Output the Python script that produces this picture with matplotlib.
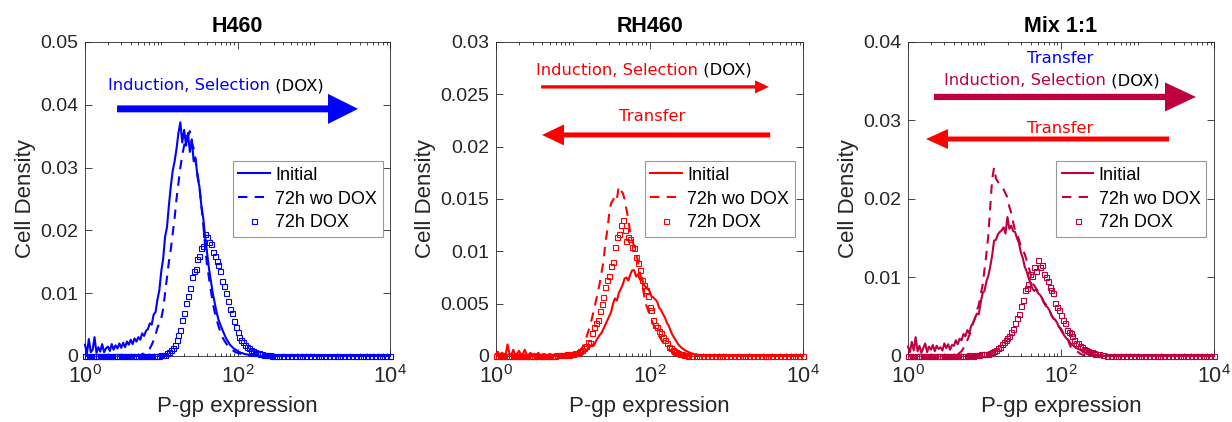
import numpy as np
import matplotlib
matplotlib.use("Agg")
import matplotlib.pyplot as plt
from matplotlib import ticker

plt.rcParams['font.family'] = ['Liberation Sans', 'DejaVu Sans']
plt.rcParams['mathtext.fontset'] = 'custom'
plt.rcParams['mathtext.rm'] = 'Liberation Sans'
plt.rcParams['mathtext.it'] = 'Liberation Sans:italic'

# log10 of P-gp expression (bin centres): fine up to 2.5, coarser in the empty tail
LOG_X = [0.000, 0.025, 0.050, 0.075, 0.100, 0.125, 0.150, 0.175,
         0.200, 0.225, 0.250, 0.275, 0.300, 0.325, 0.350, 0.375,
         0.400, 0.425, 0.450, 0.475, 0.500, 0.525, 0.550, 0.575,
         0.600, 0.625, 0.650, 0.675, 0.700, 0.725, 0.750, 0.775,
         0.800, 0.825, 0.850, 0.875, 0.900, 0.925, 0.950, 0.975,
         1.000, 1.025, 1.050, 1.075, 1.100, 1.125, 1.150, 1.175,
         1.200, 1.225, 1.250, 1.275, 1.300, 1.325, 1.350, 1.375,
         1.400, 1.425, 1.450, 1.475, 1.500, 1.525, 1.550, 1.575,
         1.600, 1.625, 1.650, 1.675, 1.700, 1.725, 1.750, 1.775,
         1.800, 1.825, 1.850, 1.875, 1.900, 1.925, 1.950, 1.975,
         2.000, 2.025, 2.050, 2.075, 2.100, 2.125, 2.150, 2.175,
         2.200, 2.225, 2.250, 2.275, 2.300, 2.325, 2.350, 2.375,
         2.400, 2.425, 2.450, 2.475, 2.500,
         2.55, 2.60, 2.65, 2.70, 2.75, 2.80, 2.85, 2.90, 2.95, 3.00,
         3.05, 3.10, 3.15, 3.20, 3.25, 3.30, 3.35, 3.40, 3.45, 3.50,
         3.55, 3.60, 3.65, 3.70, 3.75, 3.80, 3.85, 3.90, 3.95, 4.00]

# cell densities, in units of 1e-3
H460_INITIAL = [1.8, 0.4, 2.7, 0.6, 1.0, 3.0, 0.5, 1.4,
                0.7, 1.9, 0.6, 1.2, 1.5, 0.8, 1.9, 1.0,
                1.7, 1.2, 2.0, 1.3, 2.1, 1.4, 2.3, 1.8,
                2.6, 1.9, 2.8, 2.3, 3.0, 2.6, 3.6, 3.2,
                4.0, 4.3, 5.2, 5.0, 6.6, 7.0, 9.0, 10.5,
                13.5, 15.5, 19.0, 20.5, 24.0, 27.0, 29.5, 31.0,
                33.0, 35.5, 37.2, 34.0, 36.0, 33.5, 35.5, 32.5,
                34.5, 31.0, 31.5, 28.5, 27.0, 24.0, 22.0, 19.0,
                16.5, 14.0, 12.0, 10.0, 8.5, 7.0, 5.8, 5.0,
                4.2, 3.5, 2.8, 2.3, 1.8, 1.5, 1.2, 1.0,
                0.8, 0.6, 0.5, 0.4, 0.3, 0.25, 0.2, 0.15,
                0.1, 0.08, 0.05, 0.03, 0, 0, 0, 0,
                0, 0, 0, 0, 0,
                0, 0, 0, 0, 0, 0, 0, 0, 0, 0,
                0, 0, 0, 0, 0, 0, 0, 0, 0, 0,
                0, 0, 0, 0, 0, 0, 0, 0, 0, 0]
H460_WO_DOX = [0, 0, 0, 0, 0, 0, 0, 0,
               0, 0, 0, 0, 0, 0, 0, 0,
               0, 0, 0, 0, 0, 0, 0, 0,
               0, 0, 0, 0, 0, 0.1, 0.3, 0.5,
               0.6, 0.9, 1.2, 1.8, 2.5, 3.4, 4.5, 5.2,
               6.0, 7.5, 10.0, 12.5, 15.0, 17.0, 19.5, 22.0,
               25.0, 27.5, 30.0, 32.0, 33.5, 35.0, 35.0, 35.8,
               34.0, 33.0, 31.0, 29.0, 27.0, 24.0, 21.0, 17.5,
               14.5, 12.5, 10.5, 8.5, 7.0, 5.8, 4.8, 3.8,
               3.0, 2.5, 2.0, 1.6, 1.3, 1.0, 0.8, 0.6,
               0.5, 0.4, 0.3, 0.2, 0.15, 0.1, 0.05, 0,
               0, 0, 0, 0, 0, 0, 0, 0,
               0, 0, 0, 0, 0,
               0, 0, 0, 0, 0, 0, 0, 0, 0, 0,
               0, 0, 0, 0, 0, 0, 0, 0, 0, 0,
               0, 0, 0, 0, 0, 0, 0, 0, 0, 0]
H460_DOX = [0, 0, 0, 0, 0, 0, 0, 0,
            0, 0, 0, 0, 0, 0, 0, 0,
            0, 0, 0, 0, 0, 0, 0, 0,
            0, 0, 0, 0, 0, 0, 0, 0,
            0, 0, 0, 0, 0, 0, 0.05, 0.05,
            0.1, 0.15, 0.2, 0.4, 0.6, 0.9, 1.2, 1.8,
            2.5, 3.3, 4.2, 5.7, 6.8, 8.5, 9.5, 10.8,
            12.5, 13.5, 13.8, 15.5, 16.0, 17.2, 17.5, 19.5,
            19.0, 18.2, 17.8, 16.5, 16.0, 15.2, 14.5, 13.6,
            12.0, 11.2, 10.0, 8.8, 7.5, 6.8, 5.5, 4.6,
            3.8, 3.0, 2.5, 2.2, 1.8, 1.5, 1.2, 1.0,
            0.8, 0.6, 0.5, 0.4, 0.3, 0.25, 0.2, 0.15,
            0.1, 0.08, 0.05, 0.03, 0,
            0, 0, 0, 0, 0, 0, 0, 0, 0, 0,
            0, 0, 0, 0, 0, 0, 0, 0, 0, 0,
            0, 0, 0, 0, 0, 0, 0, 0, 0, 0]

RH460_INITIAL = [0.2, 0.4, 0.1, 0.3, 0.2, 0.1, 1.1, 0.2,
                 0.1, 0.6, 0.1, 0.2, 0.5, 0.1, 0.2, 0.6,
                 0.1, 0.1, 0.3, 0.1, 0.2, 0.1, 0.3, 0.1,
                 0.1, 0.2, 0.1, 0.1, 0.2, 0.1, 0.1, 0.2,
                 0.1, 0.1, 0.2, 0.1, 0.1, 0.1, 0.15, 0.1,
                 0.1, 0.15, 0.2, 0.25, 0.3, 0.35, 0.4, 0.55,
                 0.7, 0.9, 1.1, 1.0, 1.4, 1.7, 2.0, 2.2,
                 2.6, 3.0, 3.4, 3.8, 4.2, 5.0, 5.5, 5.3,
                 6.0, 6.4, 6.8, 7.4, 7.5, 7.2, 7.8, 8.2,
                 8.2, 7.6, 7.8, 7.3, 7.5, 6.8, 6.6, 6.4,
                 6.2, 5.7, 5.6, 5.4, 5.2, 4.6, 4.4, 4.0,
                 3.7, 3.2, 2.9, 2.4, 2.0, 1.7, 1.4, 1.1,
                 0.9, 0.75, 0.6, 0.5, 0.4,
                 0.25, 0.15, 0.1, 0.05, 0, 0, 0, 0, 0, 0,
                 0, 0, 0, 0, 0, 0, 0, 0, 0, 0,
                 0, 0, 0, 0, 0, 0, 0, 0, 0, 0]
RH460_WO_DOX = [0, 0, 0, 0, 0, 0, 0, 0,
                0, 0, 0, 0, 0, 0, 0, 0,
                0, 0, 0, 0, 0, 0, 0, 0,
                0, 0, 0, 0, 0, 0, 0, 0,
                0, 0, 0, 0, 0, 0, 0, 0,
                0.1, 0.2, 0.3, 0.45, 0.6, 0.8, 1.2, 1.7,
                2.3, 2.9, 3.6, 4.4, 5.2, 6.0, 6.9, 8.0,
                9.0, 10.8, 12.0, 13.6, 14.6, 14.9, 15.3, 15.0,
                16.2, 15.8, 15.6, 15.0, 14.0, 13.0, 11.7, 11.0,
                10.5, 9.8, 9.0, 8.0, 7.0, 6.0, 5.0, 4.5,
                4.0, 3.5, 3.0, 2.6, 2.3, 1.9, 1.6, 1.3,
                1.1, 0.9, 0.7, 0.5, 0.4, 0.3, 0.25, 0.15,
                0.1, 0.05, 0, 0, 0,
                0, 0, 0, 0, 0, 0, 0, 0, 0, 0,
                0, 0, 0, 0, 0, 0, 0, 0, 0, 0,
                0, 0, 0, 0, 0, 0, 0, 0, 0, 0]
RH460_DOX = [0, 0, 0, 0, 0, 0, 0, 0,
             0, 0, 0, 0, 0, 0, 0, 0,
             0, 0, 0, 0, 0, 0, 0, 0,
             0, 0, 0, 0, 0, 0, 0, 0,
             0.1, 0.05, 0.1, 0.1, 0.1, 0.15, 0.1, 0.15,
             0.2, 0.25, 0.3, 0.4, 0.5, 0.6, 0.8, 1.0,
             1.3, 1.2, 2.2, 2.8, 3.2, 3.4, 4.3, 5.0,
             5.6, 6.6, 7.3, 7.6, 8.6, 9.0, 10.4, 11.4,
             11.7, 12.5, 13.0, 12.0, 11.0, 11.4, 11.2, 10.4,
             10.3, 9.5, 8.9, 8.2, 7.3, 6.8, 6.3, 5.7,
             4.7, 4.4, 3.4, 3.0, 2.8, 2.4, 2.2, 1.8,
             1.5, 1.2, 0.9, 0.75, 0.6, 0.5, 0.4, 0.3,
             0.2, 0.15, 0.1, 0.05, 0,
             0, 0, 0, 0, 0, 0, 0, 0, 0, 0,
             0, 0, 0, 0, 0, 0, 0, 0, 0, 0,
             0, 0, 0, 0, 0, 0, 0, 0, 0, 0]

MIX_INITIAL = [1.2, 0.5, 1.8, 0.7, 2.4, 0.6, 1.3, 0.4,
               1.0, 1.6, 0.5, 1.2, 0.8, 1.4, 0.6, 1.3,
               0.9, 1.1, 0.7, 1.6, 1.0, 1.5, 0.8, 1.4,
               1.3, 2.0, 1.5, 2.2, 2.0, 2.8, 2.5, 3.3,
               2.9, 3.8, 4.2, 4.8, 5.4, 5.3, 6.8, 8.0,
               8.3, 9.5, 10.2, 11.4, 12.8, 14.7, 14.8, 15.5,
               15.8, 16.0, 16.4, 15.6, 17.7, 16.2, 16.6, 15.9,
               15.8, 15.0, 14.4, 13.2, 12.5, 11.4, 10.8, 10.0,
               9.3, 8.6, 8.3, 8.5, 8.0, 7.8, 7.4, 6.8,
               6.4, 6.2, 5.8, 5.2, 4.8, 4.6, 4.2, 3.7,
               3.3, 2.9, 2.5, 2.2, 2.0, 1.6, 1.4, 1.2,
               1.0, 0.9, 0.8, 0.65, 0.5, 0.45, 0.35, 0.3,
               0.25, 0.2, 0.15, 0.12, 0.1,
               0.05, 0, 0, 0, 0, 0, 0, 0, 0, 0,
               0, 0, 0, 0, 0, 0, 0, 0, 0, 0,
               0, 0, 0, 0, 0, 0, 0, 0, 0, 0]
MIX_WO_DOX = [0, 0, 0, 0, 0, 0, 0, 0,
              0, 0, 0, 0, 0, 0, 0, 0,
              0, 0, 0, 0, 0, 0, 0, 0,
              0, 0.1, 0.2, 0.4, 0.6, 1.0, 1.5, 2.0,
              2.6, 3.2, 4.2, 4.8, 5.8, 6.5, 7.8, 9.0,
              11.0, 13.0, 15.4, 19.0, 22.5, 24.0, 22.6, 22.2,
              21.8, 21.5, 21.2, 20.7, 20.2, 19.0, 18.2, 17.0,
              16.0, 15.6, 14.8, 14.0, 13.5, 13.0, 12.2, 11.4,
              10.5, 9.2, 9.0, 8.6, 8.2, 8.0, 7.4, 6.9,
              6.6, 6.3, 5.8, 5.2, 4.8, 4.6, 4.0, 3.7,
              3.5, 3.0, 2.6, 2.5, 1.8, 1.2, 1.1, 0.8,
              0.6, 0.5, 0.3, 0.2, 0.1, 0.05, 0, 0,
              0, 0, 0, 0, 0,
              0, 0, 0, 0, 0, 0, 0, 0, 0, 0,
              0, 0, 0, 0, 0, 0, 0, 0, 0, 0,
              0, 0, 0, 0, 0, 0, 0, 0, 0, 0]
MIX_DOX = [0, 0, 0, 0, 0, 0, 0, 0,
           0, 0, 0, 0, 0, 0, 0, 0,
           0, 0, 0, 0, 0, 0, 0, 0,
           0, 0, 0, 0, 0, 0, 0, 0,
           0.1, 0.1, 0.05, 0.1, 0.1, 0.15, 0.2, 0.2,
           0.2, 0.25, 0.3, 0.4, 0.5, 0.6, 0.8, 1.0,
           1.2, 1.5, 1.8, 2.0, 2.3, 2.5, 3.1, 3.5,
           4.2, 4.8, 5.4, 6.4, 7.1, 8.4, 8.6, 9.2,
           10.5, 10.2, 11.4, 10.8, 12.2, 11.4, 11.6, 10.5,
           10.1, 9.6, 8.8, 8.4, 8.0, 6.7, 6.2, 5.8,
           5.2, 4.6, 4.2, 3.3, 3.1, 2.9, 2.5, 2.0,
           1.7, 1.6, 1.3, 1.1, 0.9, 0.8, 0.65, 0.55,
           0.45, 0.35, 0.3, 0.25, 0.2,
           0.1, 0.05, 0, 0, 0, 0, 0, 0, 0, 0,
           0, 0, 0, 0, 0, 0, 0, 0, 0, 0,
           0, 0, 0, 0, 0, 0, 0, 0, 0, 0]

TITLES = ['H460', 'RH460', 'Mix 1:1']
YMAX = [0.05, 0.03, 0.04]
YSTEP = [0.01, 0.005, 0.01]
LABELS = ['Initial', '72h wo DOX', '72h DOX']

BLUE = '#0000FF'
RED = '#FF0000'
MIX = '#BF003F'
COLORS = [BLUE, RED, MIX]
AX_COLOR = '#262626'
ANNOT_FONT = 'DejaVu Sans'


def arrow(ax, x0, x1, y, color, tail, hl, hw):
    # sizes in points
    ax.annotate('', xy=(x1, y), xytext=(x0, y), xycoords='axes fraction',
                arrowprops=dict(arrowstyle='simple,head_length=%g,head_width=%g,tail_width=%g' % (hl, hw, tail),
                                mutation_scale=1, color=color, lw=0, shrinkA=0, shrinkB=0))


def two_color_text(ax, x, y, first, color):
    t = ax.text(x, y, first, color=color, transform=ax.transAxes, ha='left', va='center',
                fontsize=11.8, family=ANNOT_FONT)
    ax.annotate(' (DOX)', xy=(1, 0), xycoords=t, ha='left', va='bottom',
                fontsize=11.8, family=ANNOT_FONT, color='black')


fig = plt.figure(figsize=(12.32, 4.22), dpi=100)
lefts = [0.0690, 0.4026, 0.7370]
widths = [0.2476, 0.2492, 0.2484]
data = [(H460_INITIAL, H460_WO_DOX, H460_DOX),
        (RH460_INITIAL, RH460_WO_DOX, RH460_DOX),
        (MIX_INITIAL, MIX_WO_DOX, MIX_DOX)]

x = 10 ** np.array(LOG_X)
axes = []
for i in range(3):
    ax = fig.add_axes([lefts[i], 0.1564, widths[i], 0.7441])
    axes.append(ax)
    c = COLORS[i]
    ini, wo, dox = [np.array(d) * 1e-3 for d in data[i]]
    ax.plot(x, ini, '-', color=c, lw=1.5, label=LABELS[0], clip_on=False, zorder=3)
    ax.plot(x, wo, '--', color=c, lw=1.5, dashes=(4.5, 3.5), label=LABELS[1], clip_on=False, zorder=3)
    ax.plot(x, dox, 's', color=c, mfc='none', ms=3.6, mew=0.8, label=LABELS[2], clip_on=False, zorder=3)

    ax.set_xscale('log')
    ax.set_xlim(1, 1e4)
    ax.set_ylim(0, YMAX[i])
    ax.set_xticks([1, 1e2, 1e4])
    ax.set_xticklabels([r'$\mathregular{10^{0}}$', r'$\mathregular{10^{2}}$', r'$\mathregular{10^{4}}$'])
    ax.xaxis.set_minor_locator(ticker.LogLocator(base=10, subs=np.arange(1, 10), numticks=20))
    ax.xaxis.set_minor_formatter(ticker.NullFormatter())
    ax.set_yticks(np.arange(0, YMAX[i] + YSTEP[i] / 2, YSTEP[i]))
    ax.yaxis.set_major_formatter(ticker.FormatStrFormatter('%g'))
    ax.tick_params(which='both', direction='in', top=True, right=True, colors=AX_COLOR, width=0.6)
    ax.tick_params(which='major', length=5)
    ax.tick_params(which='minor', length=2.5)
    ax.tick_params(axis='y', labelsize=14, pad=5)
    ax.tick_params(axis='x', labelsize=15.5, pad=6.5)
    for s in ax.spines.values():
        s.set_color(AX_COLOR)
        s.set_linewidth(0.6)
    ax.set_xlabel('P-gp expression', fontsize=16, color=AX_COLOR, labelpad=6)
    ax.set_ylabel('Cell Density', fontsize=16, color=AX_COLOR, labelpad=3)
    ax.set_title(TITLES[i], fontsize=15.5, fontweight='bold', pad=7)

    leg = ax.legend(loc='upper left', bbox_to_anchor=(0.485, 0.62), borderaxespad=0,
                    fontsize=13, frameon=True, fancybox=False, edgecolor='#999999',
                    framealpha=1, handlelength=1.75, handletextpad=0.3, labelspacing=0.38,
                    borderpad=0.3)
    leg.get_frame().set_linewidth(0.8)

ax1, ax2, ax3 = axes

# H460
two_color_text(ax1, 0.075, 0.86, 'Induction, Selection', BLUE)
arrow(ax1, 0.105, 0.895, 0.787, BLUE, 5.0, 21.6, 21.6)

# RH460
two_color_text(ax2, 0.13, 0.91, 'Induction, Selection', RED)
arrow(ax2, 0.147, 0.889, 0.857, RED, 2.4, 10.0, 9.4)
ax2.text(0.508, 0.764, 'Transfer', color=RED, transform=ax2.transAxes, ha='center', va='center',
         fontsize=11.8, family=ANNOT_FONT)
arrow(ax2, 0.893, 0.150, 0.704, RED, 3.6, 15.8, 15.1)

# Mix 1:1
ax3.text(0.497, 0.949, 'Transfer', color=BLUE, transform=ax3.transAxes, ha='center', va='center',
         fontsize=11.8, family=ANNOT_FONT)
two_color_text(ax3, 0.118, 0.876, 'Induction, Selection', MIX)
arrow(ax3, 0.085, 0.941, 0.825, MIX, 4.5, 22.3, 20.9)
ax3.text(0.497, 0.726, 'Transfer', color=RED, transform=ax3.transAxes, ha='center', va='center',
         fontsize=11.8, family=ANNOT_FONT)
arrow(ax3, 0.853, 0.059, 0.691, RED, 3.6, 15.8, 14.4)

fig.savefig('out.png', dpi=100)
